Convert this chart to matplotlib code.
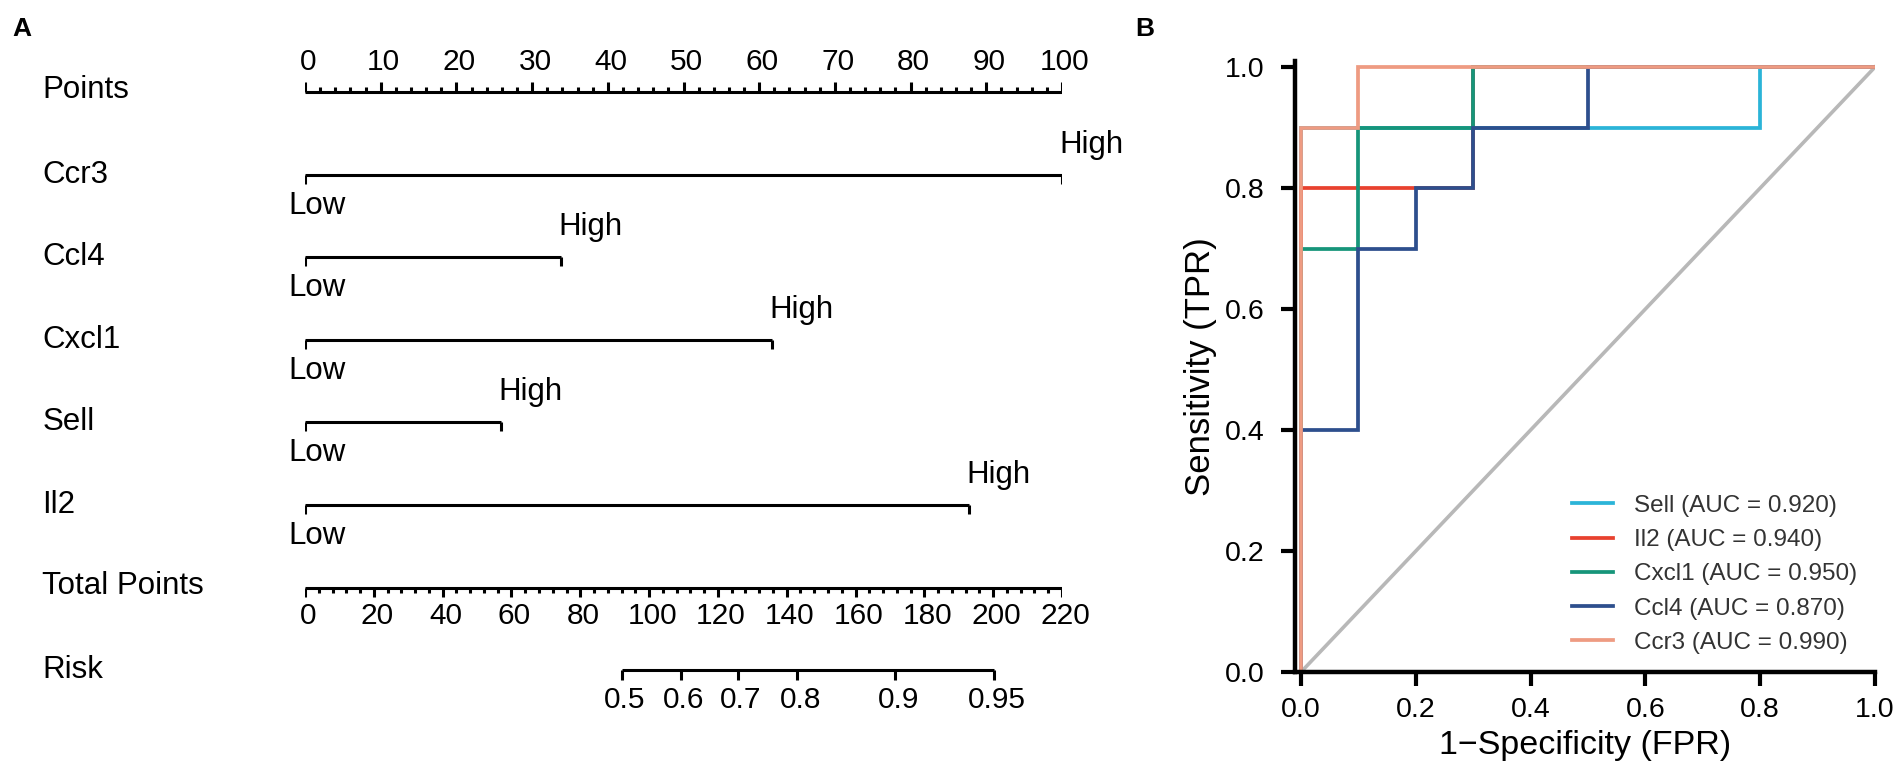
import matplotlib
matplotlib.use("Agg")
import matplotlib.pyplot as plt
from matplotlib.lines import Line2D
import numpy as np

plt.rcParams['font.family'] = ['Liberation Sans', 'DejaVu Sans']

# ---- nomogram data ----
variables = ['Ccr3', 'Ccl4', 'Cxcl1', 'Sell', 'Il2']
max_points = [100, 33.8, 61.7, 25.9, 87.7]
total_points_max = 220
risk_ticks = ['0.5', '0.6', '0.7', '0.8', '0.9', '0.95']
risk_total_points = [92.1, 109.3, 125.7, 143.1, 171.5, 200.2]

# ---- ROC data ----
roc_names = ['Sell', 'Il2', 'Cxcl1', 'Ccl4', 'Ccr3']
roc_auc = [0.920, 0.940, 0.950, 0.870, 0.990]
roc_fpr = [
    [0, 0, 0.8, 0.8, 1],
    [0, 0, 0.3, 0.3, 1],
    [0, 0, 0.1, 0.1, 0.3, 0.3, 1],
    [0, 0, 0.1, 0.1, 0.2, 0.2, 0.3, 0.3, 0.5, 0.5, 1],
    [0, 0, 0.1, 0.1, 1],
]
roc_tpr = [
    [0, 0.9, 0.9, 1, 1],
    [0, 0.8, 0.8, 1, 1],
    [0, 0.7, 0.7, 0.9, 0.9, 1, 1],
    [0, 0.4, 0.4, 0.7, 0.7, 0.8, 0.8, 0.9, 0.9, 1, 1],
    [0, 0.9, 0.9, 1, 1],
]
roc_colors = ['#2BB4D8', '#E8412E', '#16957A', '#2D4F8D', '#EE9B82']

W, H = 1904, 779
fig = plt.figure(figsize=(W / 100, H / 100), dpi=100)

# ================= panel A: nomogram =================
row0, row_h = 92, 82.6
ax = fig.add_axes([305 / W, 0, 757 / W, 1])
ax.set_xlim(0, 100)
ax.set_ylim((H - row0) / row_h, -row0 / row_h)
ax.axis('off')

lw = 2.2
fs = 22.5
tfs = 21.5
lab_x = -34.7


def px(n):
    # pixel length -> row units
    return n / row_h


# Points axis
ax.hlines(0, 0, 100, color='k', lw=lw)
for v in np.arange(0, 101, 2):
    ln = px(10) if v % 10 == 0 else px(5)
    ax.vlines(v, 0, -ln, color='k', lw=lw)
for v in range(0, 101, 10):
    ax.text(v + 0.4, -px(30), str(v), ha='center', va='center', fontsize=tfs)
ax.text(lab_x, -px(2), 'Points', ha='left', va='center', fontsize=fs)

# variable rows
for i, (name, mp) in enumerate(zip(variables, max_points), start=1):
    ax.hlines(i, 0, mp, color='k', lw=lw)
    ax.vlines([0, mp], i, i + px(9), color='k', lw=lw)
    ax.text(lab_x, i, name, ha='left', va='center', fontsize=fs)
    ax.text(-2.25, i + px(31), 'Low', ha='left', va='center', fontsize=fs)
    ax.text(mp - 0.3, i - px(30), 'High', ha='left', va='center', fontsize=fs)

# Total points axis
r = 6
scale = 100 / total_points_max
ax.hlines(r, 0, 100, color='k', lw=lw)
for v in np.arange(0, total_points_max + 1, 4):
    ln = px(9) if v % 20 == 0 else px(5)
    ax.vlines(v * scale, r, r + ln, color='k', lw=lw)
for v in range(0, total_points_max + 1, 20):
    ax.text(v * scale + 0.4, r + px(28), str(v), ha='center', va='center', fontsize=tfs)
ax.text(lab_x, r - px(2), 'Total Points', ha='left', va='center', fontsize=fs)

# Risk axis
r = 7
rx = [t * scale for t in risk_total_points]
ax.hlines(r, rx[0], rx[-1], color='k', lw=lw)
ax.vlines(rx, r, r + px(10), color='k', lw=lw)
for x, t in zip(rx, risk_ticks):
    ax.text(x + 0.4, r + px(30), t, ha='center', va='center', fontsize=tfs)
ax.text(lab_x, r, 'Risk', ha='left', va='center', fontsize=fs)

fig.text(12 / W, 1 - 29 / H, 'A', fontsize=19, fontweight='bold', ha='left', va='center')
fig.text(1135 / W, 1 - 29 / H, 'B', fontsize=19, fontweight='bold', ha='left', va='center')

# ================= panel B: ROC =================
ax_bottom, ax_top = 672, 61
axr = fig.add_axes([1295 / W, 1 - ax_bottom / H, (1875 - 1295) / W, (ax_bottom - ax_top) / H])
axr.plot([0, 1], [0, 1], color='#B8B8B8', lw=2.6, zorder=1)
handles = []
for name, auc, f, t, c in zip(roc_names, roc_auc, roc_fpr, roc_tpr, roc_colors):
    axr.plot(f, t, color=c, lw=2.7, zorder=2, solid_joinstyle='miter')
    handles.append(Line2D([0], [0], color=c, lw=2.7))
labels = ['%s (AUC = %.3f)' % (n, a) for n, a in zip(roc_names, roc_auc)]

axr.set_xlim(-0.0105, 1.0)
axr.set_ylim(0, 1.01)
axr.spines['top'].set_visible(False)
axr.spines['right'].set_visible(False)
axr.spines['left'].set_linewidth(3.2)
axr.spines['bottom'].set_linewidth(3.2)
ticks = np.arange(0, 1.01, 0.2)
axr.set_xticks(ticks)
axr.set_yticks(ticks)
axr.set_xticklabels(['%.1f' % v for v in ticks])
axr.set_yticklabels(['%.1f' % v for v in ticks])
axr.tick_params(direction='out', length=10, width=3, labelsize=20.5, pad=8)
axr.tick_params(axis='y', pad=12)
axr.set_xlabel('1\u2212Specificity (FPR)', fontsize=24.5)
axr.set_ylabel('Sensitivity (TPR)', fontsize=25)
axr.xaxis.set_label_coords(0.5, -0.095)
axr.yaxis.set_label_coords(-0.135, 0.5)

axr.legend(handles, labels, loc='lower right', bbox_to_anchor=(0.97, 0.03),
           frameon=False, fontsize=17.5, handlelength=1.7, handletextpad=0.87,
           labelspacing=0.5, borderaxespad=0, borderpad=0, labelcolor='#333333')

fig.savefig('out.png', dpi=100)
